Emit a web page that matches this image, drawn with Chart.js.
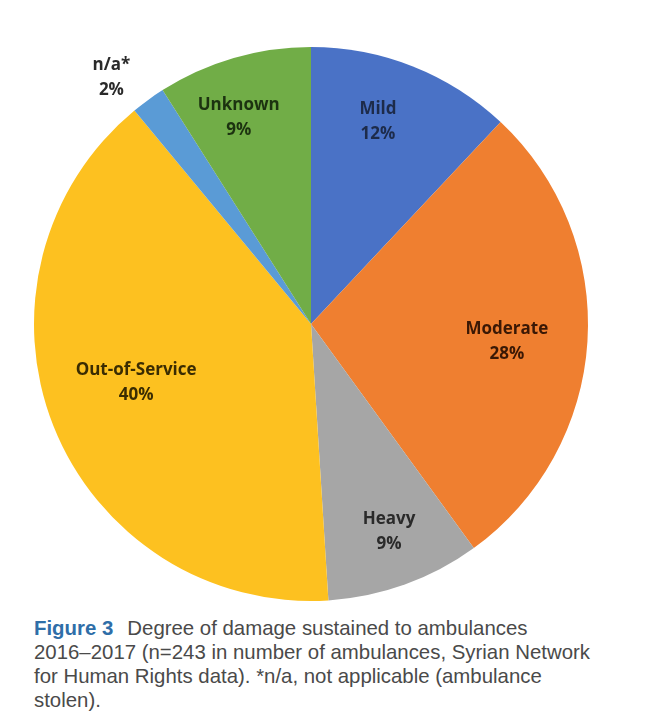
<!DOCTYPE html>
<html><head><meta charset="utf-8">
<script src="https://cdn.jsdelivr.net/npm/chart.js@4"></script>
<style>
html,body{margin:0;padding:0;background:#fff;width:650px;height:727px;overflow:hidden;}
#wrap{position:absolute;left:0;top:0;width:650px;height:610px;}
#cap{position:absolute;left:34px;top:616px;width:616px;font-family:"Liberation Sans",Arial,sans-serif;font-size:20.4px;line-height:24px;color:#4a4a4a;white-space:nowrap;}
#cap b{color:#2f6ea8;font-weight:bold;margin-right:14px;}
</style></head><body>
<div id="wrap"><canvas id="c"></canvas></div>
<div id="cap"><b>Figure 3</b>Degree of damage sustained to ambulances<br>2016–2017 (n=243 in number of ambulances, Syrian Network<br>for Human Rights data). *n/a, not applicable (ambulance<br>stolen).</div>
<script>
const categories = ["Mild","Moderate","Heavy","Out-of-Service","n/a*","Unknown"];
const values = [12,28,9,40,2,9];
const colors = ["#4a72c6","#ef7f30","#a6a6a6","#fdc120","#5a9bd6","#71ad47"];
const labelColors = ["#1d2b4a","#3a1805","#2a2a2a","#3a2c02","#2a2a2a","#1c3210"];
const labelRadius = [0.77,0.71,0.80,0.665,1.145,0.79];
const labelAngleShift = [-3.3,1.5,-0.8,3.3,-3,-3.1];

const labelPlugin = {
  id:'sliceLabels',
  afterDatasetsDraw(chart){
    const ctx = chart.ctx;
    const meta = chart.getDatasetMeta(0);
    ctx.save();
    ctx.font = 'bold 17px "Open Sans", Lato, sans-serif';
    ctx.textAlign = 'center';
    ctx.textBaseline = 'middle';
    meta.data.forEach((arc,i)=>{
      const p = arc.getProps(['x','y','startAngle','endAngle','outerRadius'],true);
      const mid = (p.startAngle+p.endAngle)/2 + labelAngleShift[i]*Math.PI/180;
      const r = p.outerRadius*labelRadius[i];
      const x = p.x + Math.cos(mid)*r;
      const y = p.y + Math.sin(mid)*r;
      ctx.fillStyle = labelColors[i];
      ctx.fillText(categories[i], x, y-12);
      ctx.fillText(values[i]+'%', x, y+13);
    });
    ctx.restore();
  }
};

new Chart(document.getElementById('c'),{
  type:'pie',
  data:{labels:categories,datasets:[{data:values,backgroundColor:colors,borderWidth:0}]},
  options:{
    responsive:true,maintainAspectRatio:false,animation:false,
    layout:{padding:{left:34,right:62,top:47,bottom:9}},
    plugins:{legend:{display:false},tooltip:{enabled:false}}
  },
  plugins:[labelPlugin]
});
</script>
</body></html>
